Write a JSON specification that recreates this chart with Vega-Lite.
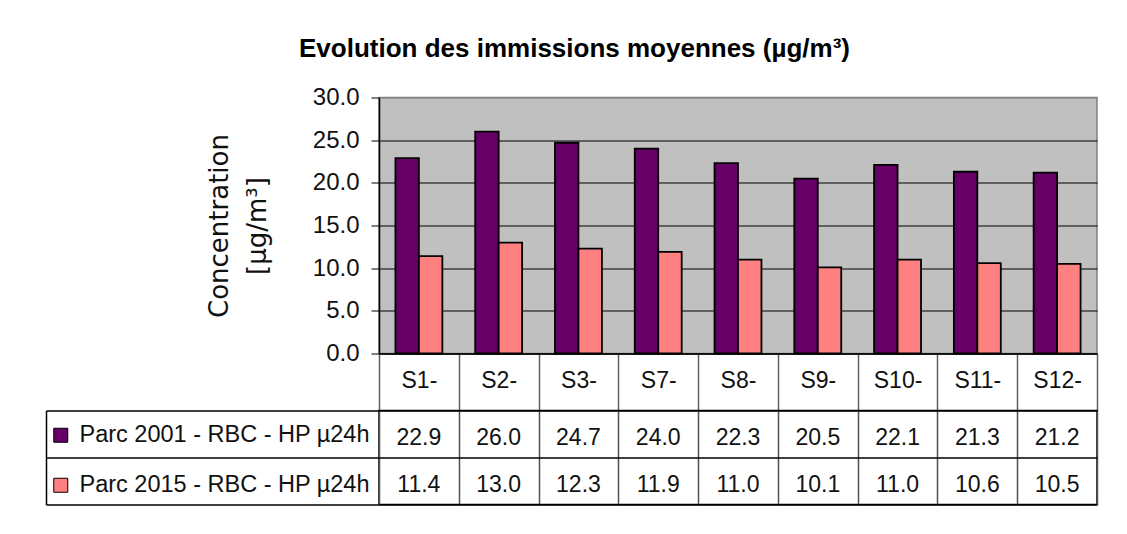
{
  "$schema": "https://vega.github.io/schema/vega-lite/v6.json",
  "padding": {"left": 44, "top": 35.5, "right": 10, "bottom": 10},
  "background": "#ffffff",
  "bounds": "flush",
  "spacing": 57,
  "title": {
    "text": "Evolution des immissions moyennes (µg/m³)",
    "fontSize": 26,
    "fontWeight": "bold",
    "font": "Liberation Sans",
    "color": "#000",
    "anchor": "middle",
    "offset": 23,
    "dx": 3
  },
  "config": {
    "font": "Liberation Sans",
    "axis": {"labelColor": "#111", "titleColor": "#111"}
  },
  "data": {
    "values": [
      {"site": "S1-", "series": "Parc 2001 - RBC  - HP µ24h", "value": 22.9},
      {"site": "S2-", "series": "Parc 2001 - RBC  - HP µ24h", "value": 26.0},
      {"site": "S3-", "series": "Parc 2001 - RBC  - HP µ24h", "value": 24.7},
      {"site": "S7-", "series": "Parc 2001 - RBC  - HP µ24h", "value": 24.0},
      {"site": "S8-", "series": "Parc 2001 - RBC  - HP µ24h", "value": 22.3},
      {"site": "S9-", "series": "Parc 2001 - RBC  - HP µ24h", "value": 20.5},
      {"site": "S10-", "series": "Parc 2001 - RBC  - HP µ24h", "value": 22.1},
      {"site": "S11-", "series": "Parc 2001 - RBC  - HP µ24h", "value": 21.3},
      {"site": "S12-", "series": "Parc 2001 - RBC  - HP µ24h", "value": 21.2},
      {"site": "S1-", "series": "Parc 2015 - RBC  - HP µ24h", "value": 11.4},
      {"site": "S2-", "series": "Parc 2015 - RBC  - HP µ24h", "value": 13.0},
      {"site": "S3-", "series": "Parc 2015 - RBC  - HP µ24h", "value": 12.3},
      {"site": "S7-", "series": "Parc 2015 - RBC  - HP µ24h", "value": 11.9},
      {"site": "S8-", "series": "Parc 2015 - RBC  - HP µ24h", "value": 11.0},
      {"site": "S9-", "series": "Parc 2015 - RBC  - HP µ24h", "value": 10.1},
      {"site": "S10-", "series": "Parc 2015 - RBC  - HP µ24h", "value": 11.0},
      {"site": "S11-", "series": "Parc 2015 - RBC  - HP µ24h", "value": 10.6},
      {"site": "S12-", "series": "Parc 2015 - RBC  - HP µ24h", "value": 10.5}
    ]
  },
  "vconcat": [
    {
      "width": 718,
      "height": 256,
      "view": {"fill": "#C0C0C0", "stroke": "#808080", "strokeWidth": 1.5},
      "mark": {"type": "bar", "stroke": "#000", "strokeWidth": 1.8},
      "encoding": {
        "x": {
          "field": "site", "type": "nominal", "sort": null,
          "scale": {"paddingInner": 0, "paddingOuter": 0},
          "axis": {
            "title": null, "labelAngle": 0, "labelFontSize": 23, "labelColor": "#111",
            "tickBand": "extent", "tickSize": 57, "tickColor": "#606060", "tickWidth": 1.5,
            "labelPadding": -30, "labelBaseline": "middle",
            "domainColor": "#000", "domainWidth": 1.5
          }
        },
        "xOffset": {
          "field": "series", "type": "nominal", "sort": null,
          "scale": {"paddingInner": 0, "paddingOuter": 0.7}
        },
        "y": {
          "field": "value", "type": "quantitative",
          "scale": {"domain": [0, 30], "nice": false},
          "axis": {
            "values": [0, 5, 10, 15, 20, 25, 30], "format": ".1f",
            "labelFontSize": 24, "labelPadding": 12, "tickSize": 8, "tickColor": "#000",
            "domainColor": "#000", "domainWidth": 1.5,
            "grid": true, "gridWidth": 1,
            "gridColor": {"condition": {"test": "datum.value === 30", "value": "#808080"}, "value": "#000"},
            "title": ["Concentration", "[µg/m³]"],
            "titleFont": "DejaVu Sans", "titleFontSize": 26, "titleFontWeight": "normal",
            "titleLineHeight": 38, "titlePadding": 42
          }
        },
        "color": {
          "field": "series", "type": "nominal", "sort": null,
          "scale": {"range": ["#660066", "#FF8080"]},
          "legend": {
            "title": null, "orient": "none", "legendX": -330, "legendY": 326,
            "symbolType": "square", "symbolSize": 196, "symbolStrokeColor": "#000",
            "symbolStrokeWidth": 1, "labelFontSize": 23.5, "labelColor": "#111",
            "labelOffset": 7, "rowPadding": 25, "labelLimit": 400
          }
        }
      }
    },
    {
      "width": 718,
      "height": 94,
      "view": {"stroke": "#000", "strokeWidth": 1.5},
      "mark": {"type": "text", "fontSize": 23, "color": "#111", "dy": 4, "format": ".1f"},
      "encoding": {
        "x": {
          "field": "site", "type": "nominal", "sort": null,
          "scale": {"paddingInner": 0, "paddingOuter": 0},
          "axis": {
            "title": null, "labels": false, "ticks": false, "domain": false,
            "grid": true, "tickBand": "extent", "gridColor": "#505050", "gridWidth": 1.5
          }
        },
        "y": {
          "field": "series", "type": "nominal", "sort": null,
          "scale": {"paddingInner": 0, "paddingOuter": 0},
          "axis": {
            "title": null, "labels": false, "offset": 333,
            "domain": true, "domainColor": "#000", "domainWidth": 1.5,
            "ticks": true, "tickSize": -333, "tickColor": "#000", "tickWidth": 1.5, "tickBand": "extent",
            "grid": true, "gridColor": "#000", "gridWidth": 1.5
          }
        },
        "text": {"field": "value", "type": "quantitative", "format": ".1f"}
      }
    }
  ]
}
